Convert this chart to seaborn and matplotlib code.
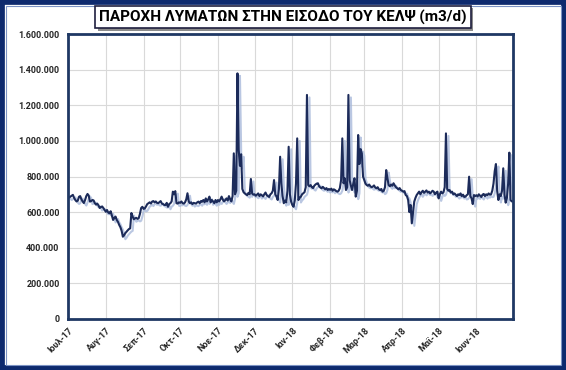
import numpy as np
import pandas as pd
import matplotlib
matplotlib.use("Agg")
import matplotlib.pyplot as plt
import matplotlib.patheffects as pe
from matplotlib.patches import Rectangle
from matplotlib.ticker import FuncFormatter
import seaborn as sns

# daily inflow, thousands of m3/d
jul = [690, 682, 687, 692, 697, 680, 668, 660, 664, 686, 690, 672, 660, 651,
       668, 690, 702, 693, 659, 662, 668, 666, 650, 642, 648, 638, 623, 628,
       632, 623, 612]
aug = [602, 612, 598, 593, 605, 580, 556, 568, 575, 556, 545, 528, 515, 495,
       462, 470, 482, 490, 498, 505, 509, 595, 575, 560, 565, 568, 562, 566,
       590, 623, 630]
sep = [618, 621, 632, 645, 650, 655, 648, 659, 662, 655, 660, 652, 650, 656,
       662, 648, 645, 640, 640, 652, 630, 645, 650, 660, 715, 700, 718, 650,
       648, 655]
oct_ = [652, 660, 650, 648, 655, 672, 706, 660, 650, 655, 645, 652, 650, 648,
        655, 659, 650, 662, 658, 668, 655, 677, 660, 672, 687, 655, 668, 660,
        650, 668, 655]
nov = [668, 660, 672, 687, 670, 660, 668, 677, 665, 690, 672, 660, 690, 930,
       700, 720, 1379, 950, 860, 925, 730, 712, 705, 700, 695, 708, 700, 786,
       705, 698]
dec = [700, 692, 698, 705, 690, 700, 695, 688, 700, 710, 695, 690, 685, 700,
       706, 720, 780, 700, 687, 668, 730, 911, 760, 690, 650, 665, 655, 720,
       967, 700, 659]
jan = [640, 630, 665, 760, 1014, 668, 680, 687, 700, 706, 712, 740, 1258, 752,
       745, 752, 740, 735, 748, 755, 760, 762, 745, 738, 734, 742, 735, 728,
       735, 724, 730]
feb = [725, 732, 720, 728, 724, 718, 715, 720, 735, 780, 1014, 762, 790, 724,
       740, 1258, 780, 750, 724, 760, 790, 687, 720, 1033, 870, 954, 930, 800]
mar = [780, 760, 752, 748, 755, 745, 740, 743, 750, 738, 734, 740, 728, 724,
       730, 715, 720, 740, 836, 790, 752, 745, 755, 748, 762, 750, 740, 734,
       728, 735, 724]
apr = [720, 715, 718, 696, 690, 668, 600, 640, 537, 600, 659, 680, 696, 705,
       715, 700, 712, 720, 708, 715, 722, 710, 715, 705, 712, 720, 715, 700,
       710, 715]
may = [677, 700, 715, 705, 712, 740, 1042, 730, 720, 724, 710, 715, 700, 705,
       698, 690, 700, 696, 705, 690, 698, 685, 687, 695, 700, 799, 690, 677,
       645, 696, 690]
jun = [695, 688, 700, 692, 685, 698, 702, 690, 700, 695, 705, 698, 700, 720,
       760, 830, 870, 720, 668, 700, 690, 720, 846, 700, 653, 680, 760, 934,
       668, 660]

month_labels = ['Ιουλ-17', 'Αυγ-17', 'Σεπ-17', 'Οκτ-17', 'Νοε-17', 'Δεκ-17',
                'Ιαν-18', 'Φεβ-18', 'Μαρ-18', 'Απρ-18', 'Μαϊ-18', 'Ιουν-18']
title = 'ΠΑΡΟΧΗ ΛΥΜΑΤΩΝ ΣΤΗΝ ΕΙΣΟΔΟ ΤΟΥ ΚΕΛΨ (m3/d)'

flow = np.array(jul + aug + sep + oct_ + nov + dec + jan + feb + mar + apr + may + jun) * 1000
assert len(flow) == 365
dates = pd.date_range("2017-07-01", periods=len(flow), freq="D")
df = pd.DataFrame({"date": dates, "flow": flow})

sns.set_style("whitegrid", {"grid.color": "#d9d9d9", "axes.edgecolor": "#1f3864"})
plt.rcParams['font.family'] = ['Roboto', 'DejaVu Sans']

W, H = 566, 370
fig = plt.figure(figsize=(W / 100, H / 100), dpi=100)
ax = fig.add_axes([68 / W, 1 - 319 / H, (513 - 68) / W, (319 - 34) / H])

sns.lineplot(data=df, x="date", y="flow", ax=ax, color="#1c2b5a", linewidth=1.5,
             path_effects=[pe.SimpleLineShadow(offset=(1.8, -1.8), shadow_color="#a9badb", alpha=0.8),
                           pe.Normal()])

ax.set_xlim(dates[0], pd.Timestamp("2018-07-01"))
ax.set_ylim(0, 1600000)
ax.set_yticks(np.arange(0, 1600001, 200000))
ax.yaxis.set_major_formatter(FuncFormatter(lambda v, p: f"{int(v):,}".replace(",", ".")))
ax.set_xticks(pd.date_range("2017-07-01", periods=12, freq="MS"))
ax.set_xticklabels(month_labels, rotation=45, ha='right', rotation_mode='anchor')
ax.tick_params(axis='both', length=0, labelsize=6.5, colors='#262626')
ax.tick_params(axis='x', pad=5)
ax.tick_params(axis='y', pad=6)
for lab in ax.get_xticklabels() + ax.get_yticklabels():
    lab.set_fontweight('bold')
ax.set_xlabel('')
ax.set_ylabel('')
ax.grid(True, color='#d9d9d9', linewidth=0.8)
for s in ax.spines.values():
    s.set_color('#1f3864')
    s.set_linewidth(2)

# title box with a small drop shadow
t = fig.text(0.5, 1 - 17 / H, title, ha='center', va='center', fontsize=11,
             fontweight='bold', color='black',
             bbox=dict(boxstyle='square,pad=0.25', facecolor='white', edgecolor='#1f1f3f', linewidth=1.2))
t.get_bbox_patch().set_path_effects([pe.SimplePatchShadow(offset=(2, -2), shadow_rgbFace='#8c8c8c', alpha=1),
                                     pe.Normal()])

# outer frame
fig.patches.append(Rectangle((0, 0), 1, 1, transform=fig.transFigure, fill=False,
                             edgecolor='#0e2a6e', linewidth=7))
fig.patches.append(Rectangle((5.5 / W, 5.5 / H), 1 - 11 / W, 1 - 11 / H, transform=fig.transFigure,
                             fill=False, edgecolor='#7d93c4', linewidth=0.8))

plt.savefig('out.png', dpi=100)
